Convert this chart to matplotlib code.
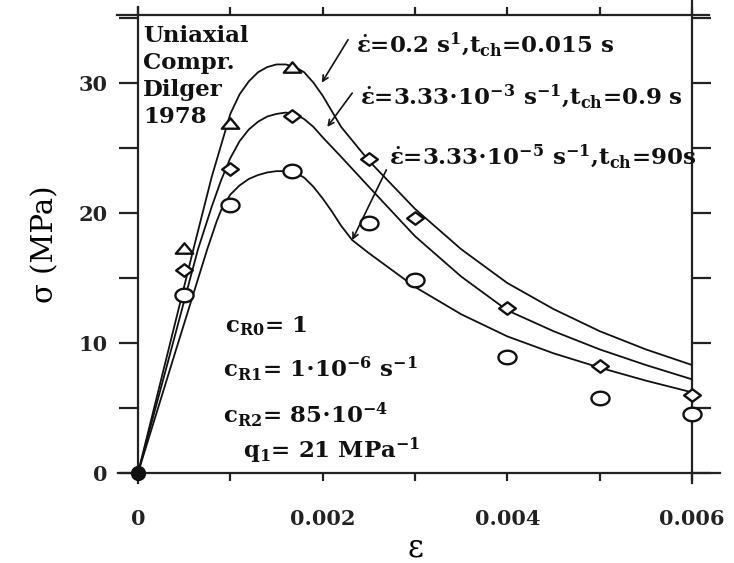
import numpy as np
import matplotlib
matplotlib.use("Agg")
import matplotlib.pyplot as plt
from matplotlib.path import Path
from matplotlib.ticker import MultipleLocator, FixedLocator

# measured points (strain, stress in MPa)
tri_x = [0.0005, 0.001, 0.00167]
tri_y = [17.3, 26.9, 31.2]

dia_x = [0.0005, 0.001, 0.00167, 0.0025, 0.003, 0.004, 0.005, 0.006]
dia_y = [15.6, 23.4, 27.4, 24.1, 19.6, 12.7, 8.2, 6.0]

circ_x = [0.0005, 0.001, 0.00167, 0.0025, 0.003, 0.004, 0.005, 0.006]
circ_y = [13.7, 20.6, 23.2, 19.2, 14.8, 8.9, 5.8, 4.5]

# model curves
fast_x = [0, 0.0003, 0.0006, 0.0008, 0.001, 0.0011, 0.0012, 0.0013, 0.0014, 0.0015, 0.0016,
          0.0017, 0.0018, 0.0019, 0.002, 0.0022, 0.0025, 0.003, 0.0035, 0.004, 0.0045, 0.005,
          0.0055, 0.006]
fast_y = [0, 8.6, 17.2, 22.8, 27.6, 29.1, 30.1, 30.8, 31.2, 31.4, 31.4,
          31.2, 30.8, 30.0, 29.0, 26.6, 24.0, 20.3, 17.2, 14.6, 12.6, 10.9,
          9.5, 8.3]

mid_x = [0, 0.0003, 0.00065, 0.0008, 0.0009, 0.001, 0.0011, 0.0012, 0.0013, 0.0014, 0.0015,
         0.0016, 0.0017, 0.0018, 0.0019, 0.002, 0.0022, 0.0025, 0.003, 0.0035, 0.004, 0.0045,
         0.005, 0.0055, 0.006]
mid_y = [0, 7.9, 17.2, 20.5, 22.5, 24.2, 25.5, 26.4, 27.0, 27.4, 27.6,
         27.7, 27.6, 27.2, 26.6, 25.8, 24.3, 22.0, 18.2, 15.1, 12.5, 10.9,
         9.5, 8.3, 7.2]

slow_x = [0, 0.0004, 0.00075, 0.00085, 0.0009, 0.001, 0.0011, 0.0012, 0.0013, 0.0014, 0.0015,
          0.0016, 0.0017, 0.0018, 0.0019, 0.002, 0.0021, 0.0022, 0.00232, 0.0025, 0.003,
          0.0035, 0.004, 0.0045, 0.005, 0.0055, 0.006]
slow_y = [0, 9.2, 17.2, 19.3, 20.2, 21.4, 22.1, 22.6, 22.9, 23.1, 23.2,
          23.2, 23.1, 22.7, 22.0, 21.1, 20.1, 19.0, 17.9, 16.9, 14.3,
          12.2, 10.5, 9.2, 8.1, 7.1, 6.2]

x_ticks = [0, 0.002, 0.004, 0.006]
x_ticklabels = ["0", "0.002", "0.004", "0.006"]
y_ticks = [0, 10, 20, 30]
y_ticklabels = ["0", "10", "20", "30"]

plt.rcParams['mathtext.fontset'] = 'custom'
plt.rcParams['mathtext.rm'] = 'DejaVu Serif:bold'
plt.rcParams['mathtext.it'] = 'DejaVu Serif:bold'
plt.rcParams['mathtext.bf'] = 'DejaVu Serif:bold'

serif = 'DejaVu Serif'
ink = '#111111'

# markers a bit squashed, the source image is stretched sideways
tri_m = Path([(-1, -0.6), (1, -0.6), (0, 0.6), (-1, -0.6)], closed=True)
dia_m = Path([(0, -0.75), (1, 0), (0, 0.75), (-1, 0), (0, -0.75)], closed=True)
t = np.linspace(0, 2 * np.pi, 60)
ell_m = Path(np.column_stack([np.cos(t), 0.75 * np.sin(t)]), closed=True)

fig = plt.figure(figsize=(7.34, 5.63), dpi=100)
ax = fig.add_axes([138 / 734, 1 - 473 / 563, 554 / 734, 458 / 563])

xmax, ymax = 0.006, 35.2
ax.set_xlim(0, xmax)
ax.set_ylim(0, ymax)

for c_x, c_y in [(fast_x, fast_y), (mid_x, mid_y), (slow_x, slow_y)]:
    ax.plot(c_x, c_y, color=ink, lw=1.3, zorder=2)

mk = dict(ls='none', mfc='white', mec=ink, mew=1.7, zorder=3, clip_on=False)
ax.plot(tri_x, tri_y, marker=tri_m, ms=12.5, **mk)
ax.plot(dia_x, dia_y, marker=dia_m, ms=12, **mk)
ax.plot(circ_x, circ_y, marker=ell_m, ms=13, **mk)
ax.plot([0], [0], 'o', color=ink, ms=10, zorder=4, clip_on=False)

# frame: crossing lines that run a bit past the corners
for s in ax.spines.values():
    s.set_visible(False)
fl = dict(color='#222222', lw=1.6, clip_on=False, zorder=1)
ax.plot([-0.00022, 0.0063], [0, 0], **fl)
ax.plot([-0.00023, 0.00618], [ymax, ymax], **fl)
ax.plot([0, 0], [-0.77, 35.8], **fl)
ax.plot([xmax, xmax], [-0.77, 36.4], **fl)

ax.xaxis.set_major_locator(FixedLocator(x_ticks))
ax.set_xticklabels(x_ticklabels)
ax.xaxis.set_minor_locator(MultipleLocator(0.001))
ax.yaxis.set_major_locator(FixedLocator(y_ticks))
ax.set_yticklabels(y_ticklabels)
ax.yaxis.set_minor_locator(MultipleLocator(5))

ax.tick_params(axis='x', which='both', direction='out', length=6, width=1.6,
               top=True, bottom=True, pad=20, color='#222222')
ax.tick_params(axis='y', which='both', direction='out', length=14, width=1.6,
               left=True, right=True, pad=8, color='#222222')
for lab in ax.get_xticklabels() + ax.get_yticklabels():
    lab.set_fontfamily(serif)
    lab.set_fontweight('bold')
    lab.set_fontsize(15)
    lab.set_color('#222222')

ax.set_xlabel('ε', fontsize=22, family=serif)
ax.xaxis.set_label_coords(0.5, -0.164)
ax.xaxis.label.set_va('center')
ax.set_ylabel('σ (MPa)', fontsize=21, family=serif)
ax.yaxis.set_label_coords(-0.168, 0.5)
ax.yaxis.label.set_va('center')

tf = dict(family=serif, fontweight='bold', fontsize=16.5, color=ink)
ax.text(0.000054, 34.4, 'Uniaxial\nCompr.\nDilger\n1978', va='top', ha='left',
        linespacing=1.28, **tf)

ax.text(0.00236, 32.9, r'$\dot{\varepsilon}$=0.2 s$^{1}$,t$_{\rm ch}$=0.015 s',
        va='center', ha='left', **tf)
ax.text(0.0024, 28.9, r'$\dot{\varepsilon}$=3.33$\cdot$10$^{-3}$ s$^{-1}$,t$_{\rm ch}$=0.9 s',
        va='center', ha='left', **tf)
ax.text(0.00272, 24.3, r'$\dot{\varepsilon}$=3.33$\cdot$10$^{-5}$ s$^{-1}$,t$_{\rm ch}$=90s',
        va='center', ha='left', **tf)

ap = dict(arrowstyle='->', color=ink, lw=1.2, shrinkA=0, shrinkB=0)
ax.annotate('', xy=(0.00199, 30.0), xytext=(0.002275, 33.3), arrowprops=ap)
ax.annotate('', xy=(0.00205, 26.6), xytext=(0.00232, 29.2), arrowprops=ap)
ax.annotate('', xy=(0.00232, 17.9), xytext=(0.00269, 23.3), arrowprops=ap)

ax.text(0.00094, 10.8, r'c$_{\rm R0}$= 1', va='baseline', ha='left', **tf)
ax.text(0.00092, 7.4, r'c$_{\rm R1}$= 1$\cdot$10$^{-6}$ s$^{-1}$', va='baseline', ha='left', **tf)
ax.text(0.00092, 3.85, r'c$_{\rm R2}$= 85$\cdot$10$^{-4}$', va='baseline', ha='left', **tf)
ax.text(0.00114, 1.15, r'q$_{1}$= 21 MPa$^{-1}$', va='baseline', ha='left', **tf)

fig.savefig('out.png', dpi=100)
